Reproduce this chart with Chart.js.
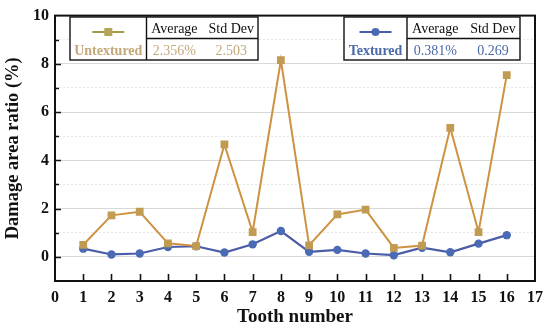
<!DOCTYPE html>
<html>
<head>
<meta charset="utf-8">
<script src="https://cdn.jsdelivr.net/npm/chart.js@4"></script>
<style>
  body { margin: 0; background: #fff; }
  #wrap { width: 550px; height: 328px; }
</style>
</head>
<body>
<div id="wrap"><canvas id="damage"></canvas></div>
<script>
const teeth = [1, 2, 3, 4, 5, 6, 7, 8, 9, 10, 11, 12, 13, 14, 15, 16];
const untextured = [0.50, 1.72, 1.87, 0.56, 0.45, 4.66, 1.03, 8.15, 0.48, 1.76, 1.96, 0.37, 0.47, 5.35, 1.03, 7.53];
const textured = [0.34, 0.10, 0.14, 0.41, 0.44, 0.18, 0.52, 1.07, 0.21, 0.29, 0.14, 0.07, 0.38, 0.19, 0.55, 0.90];
const untexturedStats = ['2.356%', '2.503'];
const texturedStats = ['0.381%', '0.269'];
const statHeaders = ['Average', 'Std Dev'];

const serif = '"Liberation Serif", "Times New Roman", serif';

function toPoints(vals) {
    return teeth.map((t, i) => ({ x: t, y: vals[i] }));
}

// plot frame plus inward tick marks
const framePlugin = {
    id: 'frame',
    afterDatasetsDraw(chart) {
        const { ctx, chartArea: a, scales } = chart;
        ctx.save();
        ctx.strokeStyle = '#111';
        ctx.lineWidth = 1.6;
        ctx.beginPath();
        teeth.forEach(t => {
            const x = Math.round(scales.x.getPixelForValue(t)) + 0.5;
            ctx.moveTo(x, a.bottom);
            ctx.lineTo(x, a.bottom - 7);
        });
        for (let v = 0; v <= 9; v++) {
            const y = Math.round(scales.y.getPixelForValue(v)) + 0.5;
            ctx.moveTo(a.left, y);
            ctx.lineTo(a.left + (v % 2 ? 4 : 6), y);
        }
        ctx.stroke();
        ctx.lineWidth = 2;
        ctx.strokeRect(a.left, a.top, a.right - a.left, a.bottom - a.top);
        ctx.restore();
    }
};

function drawTable(ctx, box, name, stats, lineColor, markColor, textColor, marker) {
    const { left, right, top, bottom, mid } = box;
    const rowMid = (top + bottom) / 2;
    ctx.fillStyle = '#fff';
    ctx.fillRect(left, top, right - left, bottom - top);
    ctx.strokeStyle = '#111';
    ctx.lineWidth = 1.4;
    ctx.strokeRect(left, top, right - left, bottom - top);
    ctx.beginPath();
    ctx.moveTo(mid, top); ctx.lineTo(mid, bottom);
    ctx.moveTo(mid, rowMid); ctx.lineTo(right, rowMid);
    ctx.stroke();
    // legend sample
    const cx = (left + mid) / 2;
    const sy = top + 15;
    ctx.strokeStyle = lineColor;
    ctx.lineWidth = 2;
    ctx.beginPath();
    ctx.moveTo(cx - 16, sy); ctx.lineTo(cx + 16, sy);
    ctx.stroke();
    ctx.fillStyle = markColor;
    if (marker === 'rect') {
        ctx.fillRect(cx - 4, sy - 4, 8, 8);
    } else {
        ctx.beginPath(); ctx.arc(cx, sy, 4, 0, Math.PI * 2); ctx.fill();
    }
    ctx.textAlign = 'center';
    ctx.textBaseline = 'middle';
    ctx.font = 'bold 14px ' + serif;
    ctx.fillStyle = textColor;
    ctx.fillText(name, cx, top + 34);
    const c1 = mid + (right - mid) * 0.25;
    const c2 = mid + (right - mid) * 0.76;
    ctx.font = '14px ' + serif;
    ctx.fillStyle = '#111';
    ctx.fillText(statHeaders[0], c1, top + 12);
    ctx.fillText(statHeaders[1], c2, top + 12);
    ctx.fillStyle = textColor;
    ctx.fillText(stats[0], c1, top + 34);
    ctx.fillText(stats[1], c2, top + 34);
}

const tablePlugin = {
    id: 'tables',
    afterDraw(chart) {
        const ctx = chart.ctx;
        ctx.save();
        drawTable(ctx, { left: 70, right: 258, top: 17, bottom: 60, mid: 146.5 },
            'Untextured', untexturedStats, '#A69A48', '#B8A456', '#C4A87A', 'rect');
        drawTable(ctx, { left: 344, right: 520, top: 17, bottom: 60, mid: 407 },
            'Textured', texturedStats, '#4B5DA6', '#4A6BB3', '#4A6AA8', 'circle');
        ctx.restore();
    }
};

new Chart('damage', {
    type: 'line',
    data: {
        datasets: [{
            label: 'Untextured',
            data: toPoints(untextured),
            borderColor: '#CF9142',
            backgroundColor: '#C29B52',
            borderWidth: 2,
            pointStyle: 'rect',
            pointRadius: 5.5,
            pointBorderWidth: 0,
            tension: 0
        }, {
            label: 'Textured',
            data: toPoints(textured),
            borderColor: '#4B5DA6',
            backgroundColor: '#4A6BB3',
            borderWidth: 2.2,
            pointStyle: 'circle',
            pointRadius: 4.2,
            pointBorderWidth: 0,
            tension: 0
        }]
    },
    options: {
        responsive: true,
        maintainAspectRatio: false,
        animation: false,
        layout: { padding: { top: 12, right: 12, left: 0, bottom: 0 } },
        plugins: { legend: { display: false }, tooltip: { enabled: false } },
        scales: {
            x: {
                type: 'linear',
                min: 0,
                max: 17,
                ticks: {
                    stepSize: 1,
                    padding: 7,
                    color: '#111',
                    font: { family: serif, size: 16, weight: 'bold' }
                },
                grid: { display: false, drawTicks: false },
                border: { display: false },
                title: {
                    display: true,
                    text: 'Tooth number',
                    color: '#111',
                    padding: { top: 0, bottom: 0 },
                    font: { family: serif, size: 19, weight: 'bold' }
                },
                afterFit: s => { s.height = 47; }
            },
            y: {
                min: -1,
                max: 10,
                ticks: {
                    stepSize: 1,
                    padding: 6,
                    color: '#111',
                    font: { family: serif, size: 16, weight: 'bold' },
                    callback: v => (v >= 0 && v % 2 === 0) ? v : ''
                },
                grid: {
                    drawTicks: false,
                    color: c => (c.tick && c.tick.value % 2) ? '#e6e6e6' : '#d8d8d8',
                    lineWidth: 1
                },
                border: {
                    display: false,
                    dash: c => (c.tick && c.tick.value % 2) ? [2, 2] : []
                },
                title: {
                    display: true,
                    text: 'Damage area ratio (%)',
                    color: '#111',
                    padding: { top: 2, bottom: 0 },
                    font: { family: serif, size: 18.5, weight: 'bold' }
                },
                afterFit: s => { s.width = 55; }
            }
        }
    },
    plugins: [framePlugin, tablePlugin]
});
</script>
</body>
</html>
